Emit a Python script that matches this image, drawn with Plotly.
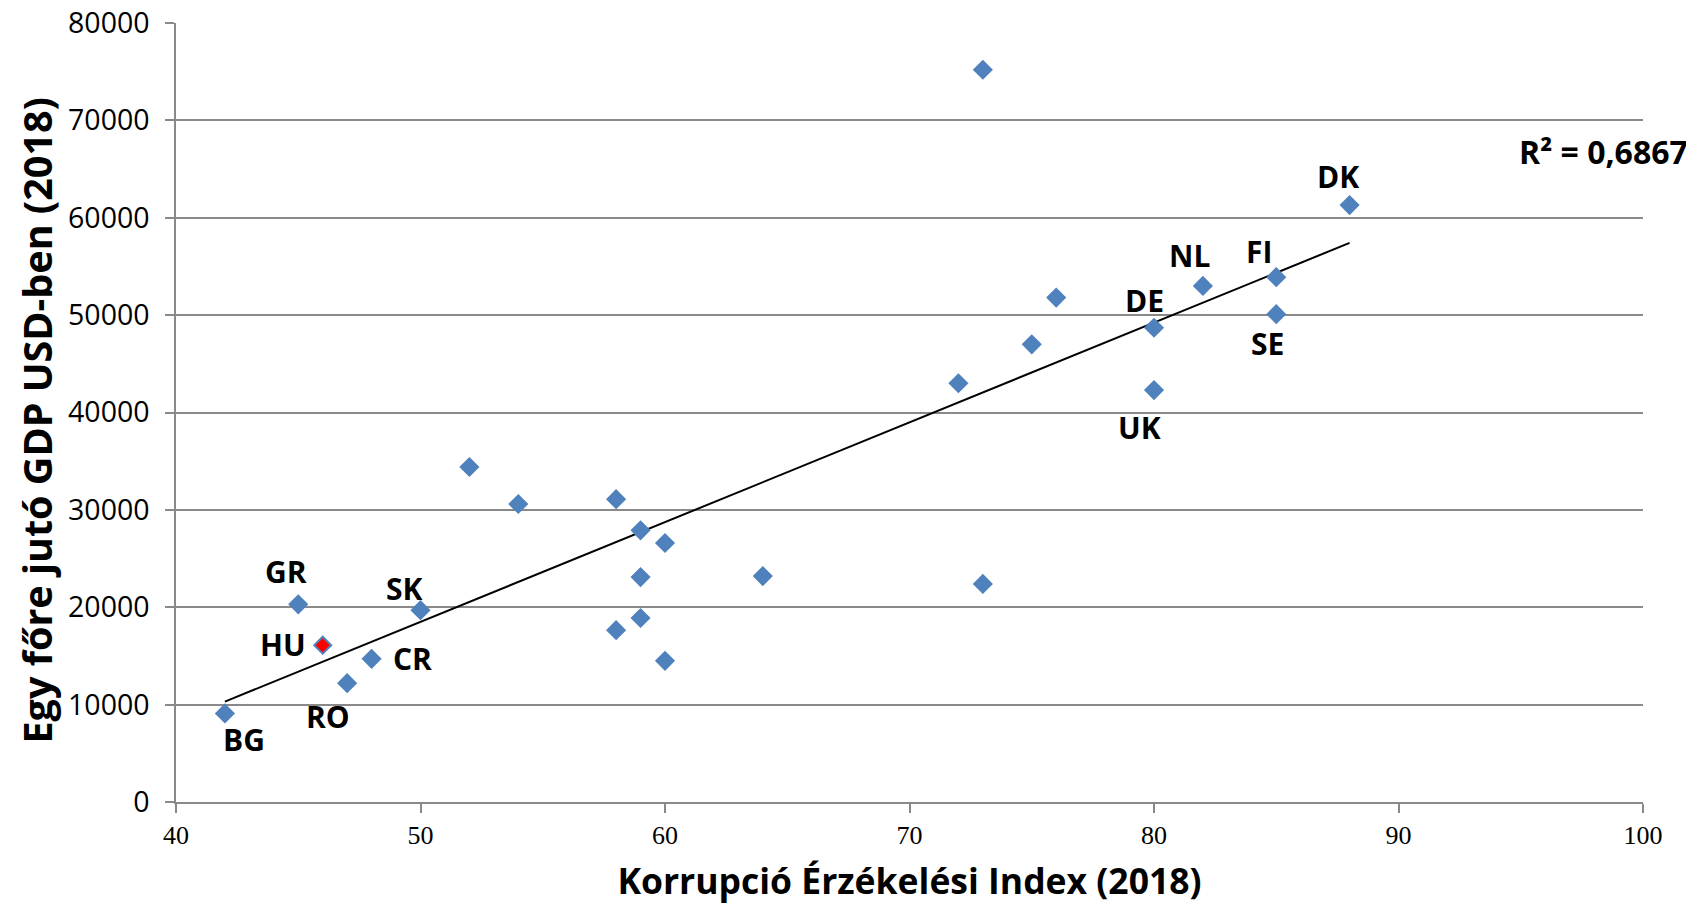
import numpy as np
import plotly.graph_objects as go

# Data: Corruption Perception Index 2018 (x) vs GDP per capita USD 2018 (y)
cpi = [42, 45, 46, 47, 48, 50, 52, 54, 58, 58, 59, 59, 59, 60, 60, 64,
       72, 73, 73, 75, 76, 80, 80, 82, 85, 85, 88]
gdp = [9100, 20300, 16100, 12200, 14700, 19700, 34400, 30600, 31100, 17650,
       27900, 23100, 18900, 26600, 14500, 23200, 43000, 75200, 22400, 47000,
       51800, 48700, 42300, 53000, 53900, 50100, 61300]
labels = ["BG", "GR", "HU", "RO", "CR", "SK", "", "", "", "",
          "", "", "", "", "", "", "", "", "", "",
          "", "DE", "UK", "NL", "FI", "SE", "DK"]
highlight = "HU"
r2_text = "R² = 0,6867"
x_title = "Korrupció Érzékelési Index (2018)"
y_title = "Egy főre jutó GDP USD-ben (2018)"
x_ticks = [40, 50, 60, 70, 80, 90, 100]
y_ticks = [0, 10000, 20000, 30000, 40000, 50000, 60000, 70000, 80000]

# label offsets in pixels (styling)
offsets = {
    "DK": (-12, 29), "NL": (-13, 30), "FI": (-17, 26), "DE": (-10, 27),
    "SE": (-9, -29), "UK": (-15, -37), "GR": (-12, 33), "SK": (-16, 22),
    "HU": (-40, 1), "CR": (41, 0), "RO": (-19, -33), "BG": (19, -26),
}

BLUE = "#4F81BD"
GRID = "#898989"

fig = go.Figure()

# trendline (least squares from data)
slope, intercept = np.polyfit(cpi, gdp, 1)
tx = np.array([min(cpi), max(cpi)])
fig.add_trace(go.Scatter(x=tx, y=slope * tx + intercept, mode="lines",
                         line=dict(color="black", width=2), hoverinfo="skip",
                         showlegend=False))

colors = ["#FF0000" if l == highlight else BLUE for l in labels]
sizes = [13 if l == highlight else 15.5 for l in labels]
lw = [2 if l == highlight else 0 for l in labels]
fig.add_trace(go.Scatter(x=cpi, y=gdp, mode="markers",
                         marker=dict(symbol="diamond", size=sizes, color=colors,
                                     opacity=1,
                                     line=dict(color=BLUE, width=lw)),
                         showlegend=False))

for x, y, l in zip(cpi, gdp, labels):
    if not l:
        continue
    dx, dy = offsets[l]
    fig.add_annotation(x=x, y=y, text="<b>%s</b>" % l, showarrow=False,
                       xshift=dx, yshift=dy, xanchor="center", yanchor="middle",
                       font=dict(family="Open Sans", size=30, color="black"))

fig.add_annotation(xref="paper", yref="paper", x=0.9734, y=0.8356,
                   text="<b>%s</b>" % r2_text, showarrow=False,
                   xanchor="center", yanchor="middle",
                   font=dict(family="Open Sans", size=32, color="black"))

# y axis title as rotated annotation
fig.add_annotation(xref="paper", yref="paper", x=0, y=0.5, xshift=-140, yshift=-8,
                   text="<b>%s</b>" % y_title, showarrow=False, textangle=-90,
                   xanchor="center", yanchor="middle",
                   font=dict(family="Open Sans", size=39.5, color="black"))

fig.update_layout(
    width=1686, height=896,
    margin=dict(l=168, r=51, t=15, b=102),
    plot_bgcolor="white", paper_bgcolor="white",
    xaxis=dict(range=[40, 100], tickvals=x_ticks, showgrid=False, zeroline=False,
               automargin=False,
               showline=True, linecolor=GRID, linewidth=1.5,
               ticks="outside", ticklen=9, tickcolor=GRID, tickwidth=1.5,
               tickfont=dict(family="Liberation Serif", size=26, color="black"),
               title=dict(text="<b>%s</b>" % x_title, standoff=25,
                          font=dict(family="Open Sans", size=35.5, color="black"))),
    yaxis=dict(range=[0, 80000], tickvals=y_ticks, tickformat="d",
               automargin=False, ticklabeloverflow="allow",
               showgrid=True, gridcolor=GRID, gridwidth=1.5, zeroline=False,
               showline=True, linecolor=GRID, linewidth=1.5,
               ticks="outside", ticklen=9, tickcolor=GRID, tickwidth=1.5,
               ticklabelstandoff=10,
               tickfont=dict(family="Open Sans", size=28.5, color="black")),
)

fig.write_html("out.html")
